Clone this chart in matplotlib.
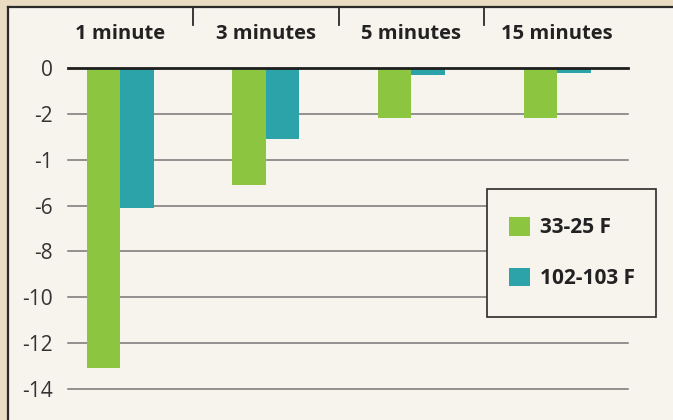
import numpy as np
import matplotlib
matplotlib.use("Agg")
import matplotlib.pyplot as plt
from matplotlib.patches import Rectangle
from matplotlib.lines import Line2D

plt.rcParams['font.family'] = ['Open Sans', 'DejaVu Sans']

categories = ['1 minute', '3 minutes', '5 minutes', '15 minutes']
series_names = ['33-25 F', '102-103 F']
cold_vals = [-13.1, -5.1, -2.2, -2.2]
hot_vals = [-6.1, -3.1, -0.3, -0.2]
yticks = [0, -2, -4, -6, -8, -10, -12, -14]
ytick_labels = ['0', '-2', '-1', '-6', '-8', '-10', '-12', '-14']

green = '#8cc540'
teal = '#2ba3a9'
paper = '#f7f3ed'
outer = '#eadbc3'

W, H = 673, 420
fig = plt.figure(figsize=(W / 100, H / 100), dpi=100, facecolor=outer)

# inner panel and its border (left + top)
fig.patches.append(Rectangle((8 / W, -0.01), 1.0, 1.0 - 7 / H + 0.01, transform=fig.transFigure,
                             facecolor=paper, edgecolor='none', zorder=-10))
fig.add_artist(Line2D([8 / W, 1], [1 - 7 / H, 1 - 7 / H], transform=fig.transFigure,
                      color='#2a2a2a', lw=1.6))
fig.add_artist(Line2D([8 / W, 8 / W], [0, 1 - 7 / H], transform=fig.transFigure,
                      color='#2a2a2a', lw=1.6))

ax = fig.add_axes([68 / W, 1 - 389 / H, (628 - 68) / W, (389 - 68) / H])
ax.set_facecolor('none')
for s in ax.spines.values():
    s.set_visible(False)

x = np.arange(len(categories))
bw = 0.23
ax.set_xlim(-0.357, 3.487)
ax.set_ylim(-14, 0)

for yv in yticks[1:]:
    ax.axhline(yv, color='#777777', lw=1.1, zorder=1, clip_on=False)
ax.axhline(0, color='#1e1e1e', lw=2.0, zorder=4, clip_on=False)

ax.bar(x - bw / 2, cold_vals, bw, color=green, zorder=3, label=series_names[0])
ax.bar(x + bw / 2, hot_vals, bw, color=teal, zorder=3, label=series_names[1])

ax.set_yticks(yticks)
ax.set_yticklabels(ytick_labels, fontsize=15, color='#333333')
ax.tick_params(axis='y', length=0, pad=11)
ax.set_xticks([])

# category labels across the top, with separators
for xi, name in zip(x, categories):
    ax.text(xi, 1 + 34 / (389 - 68), name, transform=ax.get_xaxis_transform(),
            ha='center', va='center', fontsize=14.5, fontweight='bold', color='#222222')
for xi in x[:-1] + 0.5:
    ax.plot([xi, xi], [1 + 43 / (389 - 68), 1 + 61 / (389 - 68)],
            transform=ax.get_xaxis_transform(), color='#2a2a2a', lw=1.3, clip_on=False)

# legend frame drawn separately so its padding can differ per side
ax.add_patch(Rectangle((487 / W, 1 - 317 / H), (656 - 487) / W, (317 - 189) / H,
                       transform=fig.transFigure, facecolor=paper, clip_on=False,
                       edgecolor='#2a2a2a', lw=1.2, zorder=5))
leg = ax.legend(loc='upper left', bbox_to_anchor=(487 / W, 1 - 195 / H),
                bbox_transform=fig.transFigure, frameon=False,
                prop={'weight': 'bold', 'size': 15},
                handlelength=1.0, handleheight=1.0, handletextpad=0.5,
                labelspacing=1.4, borderpad=1.05, borderaxespad=0)
for t in leg.get_texts():
    t.set_color('#222222')
leg.set_zorder(6)

fig.savefig('out.png', dpi=100, facecolor=outer)
